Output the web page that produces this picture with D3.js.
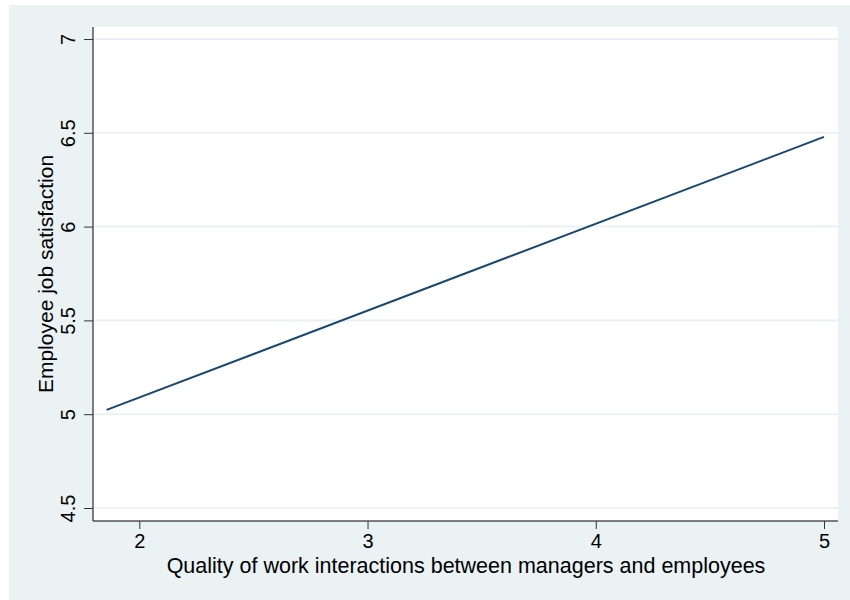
<!DOCTYPE html>
<html>
<head>
<meta charset="utf-8">
<script src="https://cdn.jsdelivr.net/npm/d3@7"></script>
<style>
body { margin: 0; background: #fff; }
text { font-family: "Liberation Sans", Arial, sans-serif; fill: #000; }
</style>
</head>
<body>
<div id="chart"></div>
<script>
// data
var xVals = [1.857, 5];
var yVals = [5.023, 6.478];
var xTicks = [2, 3, 4, 5];
var yTicks = [4.5, 5, 5.5, 6, 6.5, 7];
var xTitle = "Quality of work interactions between managers and employees";
var yTitle = "Employee job satisfaction";

var W = 850, H = 600;
var plot = { left: 93, top: 27, right: 838, bottom: 521 };

var svg = d3.select("#chart").append("svg")
    .attr("width", W)
    .attr("height", H);

// outer graph region
svg.append("rect")
    .attr("x", 9).attr("y", 5)
    .attr("width", W - 9).attr("height", H - 5)
    .attr("fill", "#eaf2f3");

// plot region
svg.append("rect")
    .attr("x", plot.left).attr("y", plot.top)
    .attr("width", plot.right - plot.left)
    .attr("height", plot.bottom - plot.top)
    .attr("fill", "#fff");

var x = d3.scaleLinear().domain([2, 5]).range([139.3, 824]);
var y = d3.scaleLinear().domain([4.5, 7]).range([508, 39]);

// grid lines
svg.append("g").selectAll("line")
    .data(yTicks)
    .enter().append("line")
    .attr("x1", plot.left)
    .attr("x2", plot.right)
    .attr("y1", function(d) { return y(d); })
    .attr("y2", function(d) { return y(d); })
    .attr("stroke", "#eaf2f3")
    .attr("stroke-width", 2);

// fitted line
var pts = xVals.map(function(d, i) { return { x: d, y: yVals[i] }; });
var line = d3.line()
    .x(function(d) { return x(d.x); })
    .y(function(d) { return y(d.y); });
svg.append("path")
    .datum(pts)
    .attr("d", line)
    .attr("fill", "none")
    .attr("stroke", "#1a476f")
    .attr("stroke-width", 2);

// x axis
var xAxis = d3.axisBottom(x)
    .tickValues(xTicks)
    .tickSize(8)
    .tickPadding(5)
    .tickFormat(d3.format("d"));
var xg = svg.append("g")
    .attr("transform", "translate(0," + plot.bottom + ")")
    .call(xAxis);
xg.select(".domain")
    .attr("d", "M" + plot.left + ",0H" + plot.right)
    .attr("stroke", "#000");
xg.selectAll(".tick line").attr("stroke", "#333");
xg.selectAll(".tick text")
    .style("font-size", "20px")
    .style("font-family", "Liberation Sans, Arial, sans-serif")
    .attr("fill", "#000");

// y axis
var yAxis = d3.axisLeft(y)
    .tickValues(yTicks)
    .tickSize(9)
    .tickFormat(function(d) { return d; });
var yg = svg.append("g")
    .attr("transform", "translate(" + plot.left + ",0)")
    .call(yAxis);
yg.select(".domain")
    .attr("d", "M0," + plot.top + "V" + plot.bottom)
    .attr("stroke", "#000");
yg.selectAll(".tick line").attr("stroke", "#333");
yg.selectAll(".tick text")
    .attr("x", null).attr("dy", null)
    .attr("text-anchor", "middle")
    .attr("transform", "translate(-18,0) rotate(-90)")
    .style("font-size", "20px")
    .style("font-family", "Liberation Sans, Arial, sans-serif")
    .attr("fill", "#000");

// axis titles
svg.append("text")
    .attr("x", 466)
    .attr("y", 573)
    .attr("text-anchor", "middle")
    .style("font-size", "21.5px")
    .text(xTitle);

svg.append("text")
    .attr("transform", "translate(53," + ((plot.top + plot.bottom) / 2) + ") rotate(-90)")
    .attr("text-anchor", "middle")
    .style("font-size", "21px")
    .text(yTitle);
</script>
</body>
</html>
